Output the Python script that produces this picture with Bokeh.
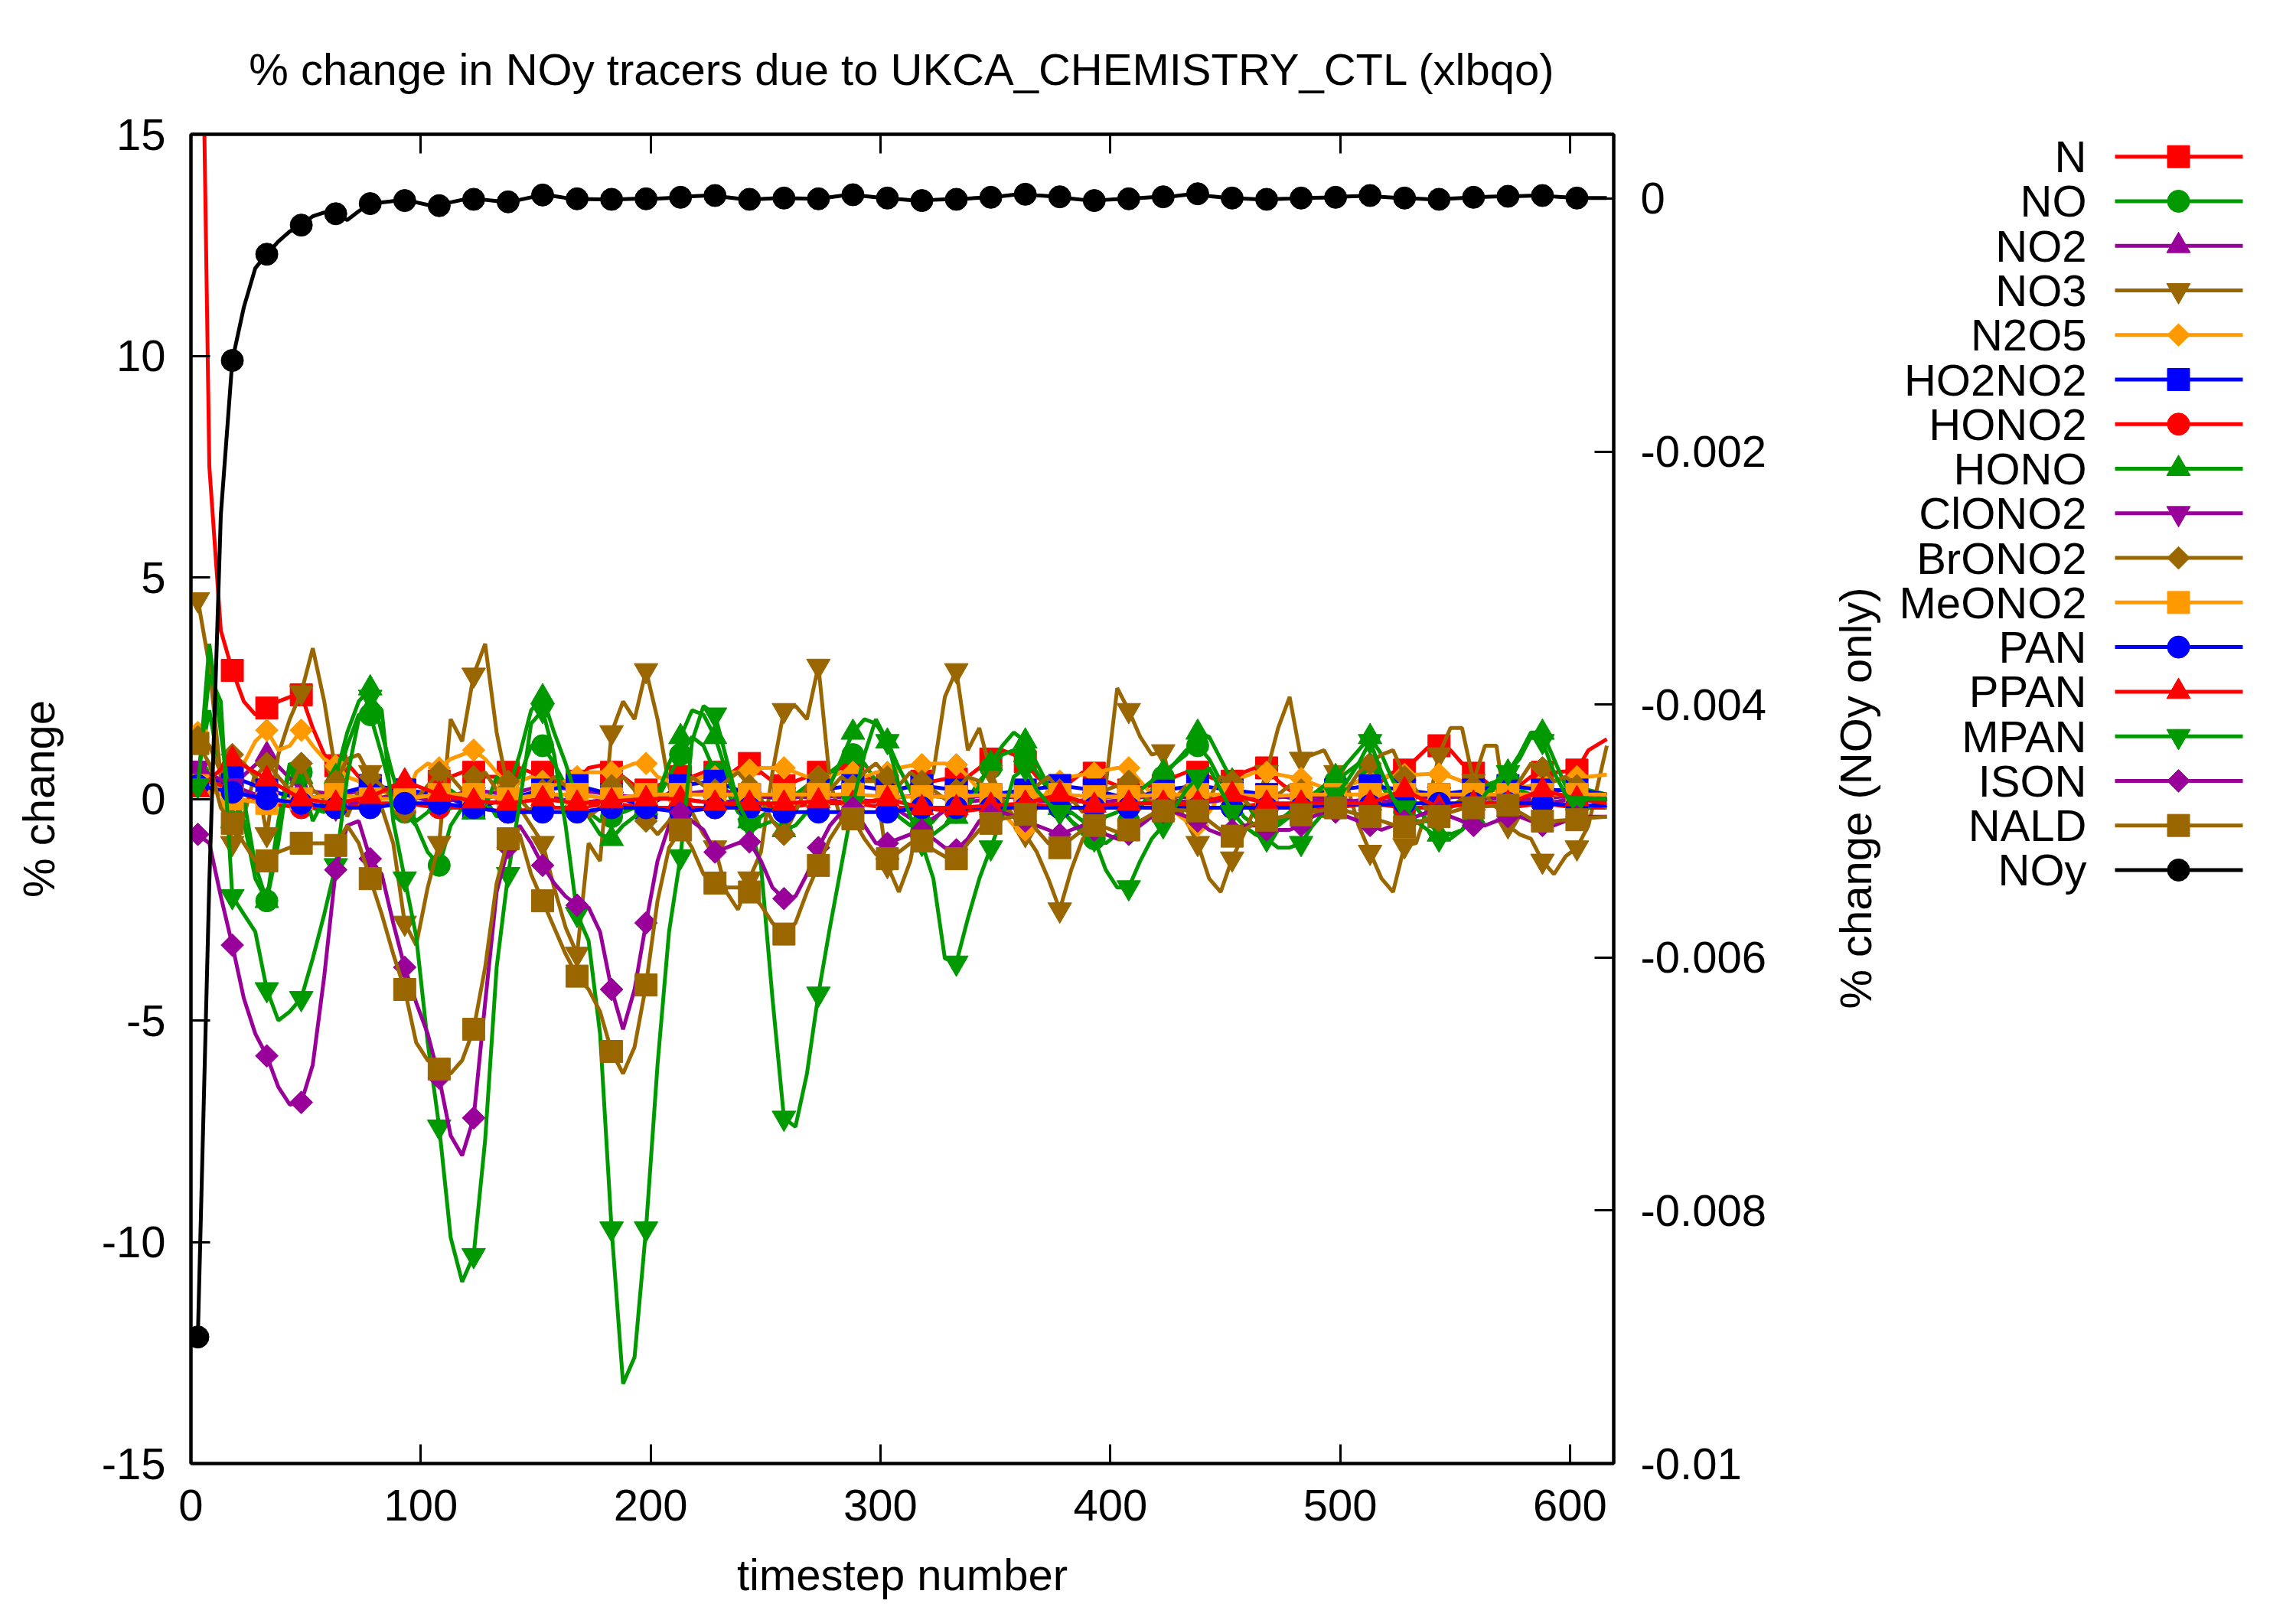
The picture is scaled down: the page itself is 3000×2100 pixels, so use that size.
import math
from bokeh.plotting import figure
from bokeh.models import Range1d, LinearAxis, FixedTicker, CustomJSTickFormatter
from bokeh.layouts import row
from bokeh.embed import file_html
from bokeh.resources import INLINE
from bokeh.core.properties import value

# ---------------- data ----------------
timesteps = [3 + 5 * i for i in range(122)] + [616]          # fine grid (123 points)
coarse_steps = timesteps[:121:3] + [616]                      # marker grid (42 points)

x_ticks = [0, 100, 200, 300, 400, 500, 600]
y_ticks = [-15, -10, -5, 0, 5, 10, 15]
y2_ticks = [0, -0.002, -0.004, -0.006, -0.008, -0.01]

N = [25, 7.5, 3.8, 2.9, 2.2, 1.9, 2.05, 2.2, 2.3, 2.35, 1.6, 1.0, 0.75, 0.8, 0.5,
     0.3, 0.2, 0.3, 0.2, 0.1, 0.2, 0.4, 0.5, 0.6, 0.6, 0.5, 0.5, 0.6, 0.7, 0.6,
     0.6, 0.4, 0.3, 0.4, 0.7, 0.75, 0.6, 0.5, 0.3, 0.2, 0.3, 0.4, 0.5, 0.5, 0.6,
     0.6, 0.5, 0.7, 0.8, 0.6, 0.4, 0.3, 0.4, 0.5, 0.6, 0.6, 0.7, 0.7, 0.5, 0.4,
     0.3, 0.2, 0.3, 0.4, 0.4, 0.45, 0.45, 0.5, 0.7, 0.9, 1.1, 1.0, 0.84, 0.5, 0.3,
     0.3, 0.4, 0.6, 0.58, 0.4, 0.3, 0.2, 0.25, 0.3, 0.3, 0.5, 0.6, 0.6, 0.5, 0.4,
     0.4, 0.6, 0.7, 0.7, 0.4, 0.2, 0.1, 0.0, 0.0, 0.2, 0.3, 0.4, 0.3, 0.4, 0.6,
     0.65, 0.9, 1.15, 1.2, 1.1, 0.8, 0.58, 0.4, 0.2, 0.2, 0.3, 0.5, 0.6, 0.6, 0.62,
     0.65, 1.1, 1.35]

NO = [0.6, 2.0, 0.5, 0.2, -0.5, -1.8, -2.3, -0.5, 0.8, 0.6, -0.2, -0.3, 0.3, 1.2, 1.9,
      1.9, 1.0, 0.0, -0.3, -0.6, -1.2, -1.5, -0.6, -0.2, 0.2, 0.0, -0.4, -0.3, 0.5, 1.2,
      1.2, 0.8, 0.3, -0.1, -0.3, -0.5, -0.4, -0.3, -0.2, -0.1, 0.0, 0.5, 1.0, 1.4, 1.2,
      0.6, 0.2, -0.3, -0.5, -0.4, -0.2, -0.1, 0.1, 0.3, 0.4, 0.6, 0.8, 1.0, 0.8, 0.4,
      0.0, -0.4, -0.6, -0.7, -0.5, -0.2, -0.3, 0.0, 0.4, 0.7, 1.0, 1.1, 1.0, 0.6, 0.2,
      -0.2, -0.5, -0.7, -0.9, -1.0, -0.8, -0.5, -0.2, 0.2, 0.5, 0.8, 1.1, 1.2, 0.9, 0.4,
      0.0, -0.4, -0.6, -0.7, -0.6, -0.4, -0.2, 0.0, 0.2, 0.4, 0.6, 0.8, 0.7, 0.3, -0.1,
      -0.3, -0.5, -0.5, -0.4, -0.2, 0.0, 0.2, 0.3, 0.4, 0.3, 0.2, 0.1, 0.0, -0.1, 0.0,
      0.1, 0.2, 0.1]

NO2 = [0.5, 0.3, 1.0, 0.2, 0.1, 0.2, 0.1, 0.0, 0.2, 0.1,
       0.3, 0.2, 0.1, 0.0, 0.1, 0.2, 0.1, 0.0, 0.1, 0.0,
       -0.1, -0.6, -0.1, 0.0, 0.1, 0.0, -0.1, 0.0, 0.1, 0.0,
       0.0, 0.1, 0.0, -0.1, 0.0, 0.1, 0.0, 0.1, 0.0, 0.0,
       0.1, 0.0]

NO3 = [4.5, 3.0, 0.5, -1.0, -0.4, 0.6, -0.8, 1.0, 1.8, 2.4, 3.4, 2.2, 0.6, -0.4, 0.2,
       0.6, -0.2, -1.0, -2.8, -3.3, -2.0, -1.0, 1.8, 1.3, 2.8, 3.5, 1.5, 0.2, -0.2, -0.6,
       -1.0, -2.0, -2.9, -3.5, -1.0, -1.4, 1.5, 2.2, 1.8, 2.9, 1.8, 0.3, -0.6, -0.3, -0.8,
       -1.1, -2.1, -2.5, -1.8, -1.2, 0.6, 2.0, 2.1, 1.8, 3.0, 0.4, -0.5, 0.2, 0.4, 0.4,
       -1.5, -2.1, -1.4, 0.0, 0.6, 2.3, 2.9, 1.1, 1.6, 0.6, 0.0, -0.4, -0.8, -1.2, -1.8,
       -2.5, -1.6, -0.9, -0.6, 0.3, 2.5, 2.0, 1.4, 1.0, 1.07, 0.0, -0.5, -1.0, -1.8, -2.1,
       -1.35, -0.8, -0.2, 0.6, 1.6, 2.3, 0.9, 1.0, 1.1, 0.6, 0.3, -0.6, -1.2, -1.8, -2.1,
       -1.05, -1.0, -0.2, 1.0, 1.6, 1.6, 0.4, 1.2, 1.2, -0.6, -0.8, -0.9, -1.4, -1.7, -1.3,
       -1.1, -0.6, 1.2]

N2O5 = [1.5, 1.2, 0.6, 0.4, 0.8, 1.3, 1.55, 1.1, 1.2, 1.55, 1.2, 0.9, 0.75, 0.5, 0.4,
        0.3, 0.2, 0.0, -0.05, 0.6, 0.8, 0.7, 0.9, 1.0, 1.1, 0.9, 0.6, 0.3, 0.4, 0.5,
        0.4, 0.3, 0.4, 0.5, 0.6, 0.6, 0.6, 0.7, 0.8, 0.8, 0.5, 0.4, 0.3, 0.4, 0.5,
        0.5, 0.6, 0.6, 0.65, 0.7, 0.7, 0.7, 0.6, 0.5, 0.5, 0.5, 0.6, 0.6, 0.5, 0.6,
        0.6, 0.7, 0.75, 0.77, 0.8, 0.8, 0.77, 0.5, 0.2, 0.0, -0.3, -0.6, -0.7, -0.2, 0.2,
        0.4, 0.5, 0.55, 0.58, 0.65, 0.7, 0.7, 0.4, 0.1, -0.1, -0.3, -0.5, -0.6, -0.3, 0.1,
        0.3, 0.5, 0.6, 0.6, 0.55, 0.5, 0.46, 0.35, 0.25, 0.2, 0.3, 0.4, 0.4, 0.5, 0.5,
        0.55, 0.55, 0.56, 0.56, 0.5, 0.4, 0.3, 0.2, 0.2, 0.2, 0.25, 0.3, 0.35, 0.4, 0.45,
        0.5, 0.5, 0.55]

HO2NO2 = [0.3, 0.5, 0.2, 0.0, 0.1, 0.3, 0.2, 0.1, -0.2, 0.0,
          0.2, 0.3, 0.1, -0.2, 0.3, 0.4, 0.1, 0.0, 0.2, 0.3,
          0.2, 0.3, 0.2, 0.1, 0.2, 0.3, 0.2, 0.0, 0.2, 0.3,
          0.2, 0.1, 0.0, 0.2, 0.3, 0.2, 0.1, 0.2, 0.3, 0.2,
          0.2, 0.1]

HONO2 = [0.5, 0.2, -0.1, -0.2, -0.2, -0.1, -0.1, -0.2, -0.2, -0.3,
         -0.2, -0.2, -0.1, -0.2, -0.2, -0.2, -0.1, -0.2, -0.1, -0.1,
         -0.2, -0.2, -0.3, -0.2, -0.1, -0.2, -0.2, -0.1, -0.1, -0.2,
         -0.2, -0.1, -0.2, -0.2, -0.1, -0.2, -0.2, -0.1, -0.2, -0.1,
         -0.2, -0.2]

HONO = [0.2, 3.5, 1.5, -0.5, 0.0, -1.5, -2.3, -1.0, 0.8, 0.5, -0.5, 0.0, 0.5, 1.5, 2.2,
        2.5, 1.5, 0.5, -0.3, -0.5, -0.3, -0.1, 0.2, 0.0, -0.3, -0.2, 0.5, 0.2, 1.0, 2.0,
        2.3, 1.5, 0.8, 0.0, -0.4, -0.8, -0.9, -0.6, -0.4, -0.2, 0.1, 0.8, 1.4, 2.0, 1.9,
        1.4, 0.6, -0.2, -0.5, -0.6, -0.5, -0.7, -0.6, -0.3, 0.0, 0.3, 0.9, 1.5, 1.8, 1.7,
        1.3, 0.7, 0.2, -0.4, -0.8, -0.6, -0.4, -0.2, 0.3, 0.8, 1.2, 1.5, 1.3, 0.8, 0.3,
        -0.2, -0.5, -0.8, -0.6, -0.4, -0.3, 0.0, 0.2, 0.4, 0.6, 0.8, 1.0, 1.5, 1.4, 0.9,
        0.4, 0.0, -0.4, -0.6, -0.5, -0.3, -0.1, 0.1, 0.3, 0.5, 0.8, 1.1, 1.4, 1.0, 0.4,
        0.1, -0.2, -0.5, -0.8, -0.8, -0.7, -0.4, 0.0, 0.3, 0.6, 1.0, 1.5, 1.5, 0.9, 0.3,
        -0.1, -0.2, 0.0]

ClONO2 = [0.7, 0.3, 0.0, -0.1, -0.2, 0.0, 0.1, -0.1, 0.1, 0.0,
          0.1, -0.1, 0.0, 0.1, 0.0, -0.1, 0.0, 0.1, 0.0, -0.1,
          0.0, 0.1, 0.0, 0.1, 0.0, -0.1, 0.0, 0.1, 0.0, -0.1,
          0.0, 0.0, 0.1, 0.0, -0.1, 0.0, 0.1, 0.0, 0.0, -0.1,
          0.0, 0.0]

BrONO2 = [1.4, 1.2, 0.6, 1.0, 0.8, 0.5, 0.8, 0.5, 0.2, 0.8, 0.2, 0.0, 0.4, 0.9, 1.0,
          0.5, 0.3, 0.0, -0.3, 0.0, 0.3, 0.6, 0.5, 0.2, 0.5, 0.6, 0.2, 0.4, 0.0, -0.3,
          0.2, 0.5, 0.3, 0.0, -0.4, -0.2, 0.3, 0.5, 0.2, -0.5, -0.8, -0.5, 0.0, 0.5, 0.3,
          0.2, 0.4, 0.6, 0.3, 0.0, -0.5, -0.8, -0.3, 0.3, 0.5, 0.2, 0.5, 0.3, 0.6, 0.8,
          0.5, 0.3, 0.6, 0.4, 0.2, 0.0, 0.2, 0.5, 0.4, 0.1, -0.2, -0.4, -0.2, 0.3, 0.5,
          0.2, 0.0, -0.3, -0.1, 0.2, 0.3, 0.4, 0.2, -0.1, -0.3, 0.0, 0.3, 0.2, 0.0, 0.5,
          0.4, 0.0, -0.3, -0.2, 0.1, 0.3, 0.2, -0.2, -0.4, -0.2, 0.2, 0.6, 0.8, 1.0, 1.1,
          0.5, 0.2, -0.3, -0.5, -0.2, 0.0, 0.3, 0.1, -0.2, 0.0, 0.4, 0.8, 0.7, 0.4, 0.5,
          0.3, 0.0, -0.2]

MeONO2 = [0.3, 0.0, -0.1, 0.0, 0.1, 0.0, 0.0, 0.1, 0.1, 0.0,
          0.1, 0.1, 0.0, 0.1, 0.1, 0.1, 0.1, 0.1, 0.1, 0.1,
          0.05, 0.05, 0.05, 0.1, 0.05, 0.1, 0.05, 0.05, 0.1, 0.1,
          0.1, 0.05, 0.1, 0.1, 0.1, 0.1, 0.1, 0.1, 0.1, 0.1,
          0.1, 0.1]

PAN = [0.3, 0.15, 0.0, -0.1, -0.2, -0.2, -0.1, -0.1, -0.2, -0.3,
       -0.3, -0.3, -0.2, -0.2, -0.3, -0.2, -0.2, -0.3, -0.3, -0.3,
       -0.3, -0.2, -0.2, -0.2, -0.2, -0.2, -0.2, -0.2, -0.2, -0.2,
       -0.2, -0.2, -0.2, -0.1, -0.15, -0.1, -0.1, -0.1, -0.1, -0.1,
       -0.15, -0.15]

PPAN = [0.2, 0.9, 0.45, 0.0, -0.1, 0.05, 0.4, 0.1, -0.05, -0.1,
        0.0, -0.1, -0.05, 0.0, 0.0, -0.1, -0.1, -0.1, -0.05, -0.1,
        0.0, -0.2, -0.2, -0.15, -0.1, 0.1, -0.15, -0.1, -0.1, -0.1,
        0.1, -0.1, -0.1, -0.1, -0.1, 0.2, -0.2, -0.1, -0.1, 0.2,
        0.0, -0.1]

MPAN = [0.3, 2.8, 2.2, -2.2, -2.6, -3.0, -4.3, -5.0, -4.8, -4.5, -3.6, -2.6, -1.5, 0.5, 1.8,
        2.3, 2.0, -0.5, -1.8, -3.1, -5.5, -7.4, -9.9, -10.9, -10.3, -7.7, -3.8, -1.7, -0.1, 1.7,
        2.0, 1.0, -0.6, -2.6, -3.2, -5.3, -9.7, -13.2, -12.6, -9.7, -6.0, -3.0, -1.3, 1.3, 2.1,
        1.9, 0.9, -0.1, -0.6, -1.5, -4.5, -7.2, -7.4, -6.2, -4.4, -2.9, -1.5, -0.1, 1.0, 1.8,
        1.3, 0.3, -0.4, -1.0, -1.8, -3.6, -3.7, -2.7, -1.8, -1.1, -0.4, 0.5, 0.7, 0.2, -0.1,
        -0.3, -0.3, -0.5, -0.9, -1.6, -2.0, -2.0, -1.4, -0.9, -0.6, -0.2, 0.2, 0.5, 0.7, 0.2,
        -0.3, -0.6, -0.8, -0.9, -1.1, -1.1, -1.0, -0.6, -0.3, 0.1, 0.4, 0.8, 1.3, 0.6, 0.0,
        -0.2, -0.5, -0.7, -0.9, -0.9, -0.7, -0.3, 0.1, 0.4, 0.6, 0.9, 1.4, 1.3, 0.6, 0.1,
        -0.1, 0.0, 0.0]

ISON = [-0.8, -1.0, -2.2, -3.3, -4.5, -5.3, -5.8, -6.5, -6.9, -6.85, -6.0, -4.0, -1.6, -0.6, -0.5,
        -1.35, -1.7, -2.8, -3.8, -4.6, -5.3, -6.3, -7.6, -8.05, -7.2, -4.6, -2.1, -1.1, -0.6, -1.0,
        -1.5, -1.9, -2.2, -2.4, -2.45, -3.0, -4.3, -5.2, -4.3, -2.8, -1.4, -0.6, -0.3, -0.5, -0.7,
        -1.2, -1.1, -1.0, -0.97, -1.4, -2.0, -2.25, -2.2, -1.7, -1.1, -0.6, -0.3, -0.2, -0.6, -1.0,
        -1.0, -0.9, -0.8, -0.7, -0.9, -1.1, -1.15, -0.9, -0.5, -0.35, -0.3, -0.4, -0.5, -0.6, -0.7,
        -0.8, -0.7, -0.6, -0.7, -0.8, -0.9, -0.8, -0.6, -0.4, -0.3, -0.3, -0.4, -0.5, -0.7, -0.8,
        -0.7, -0.6, -0.6, -0.7, -0.7, -0.7, -0.6, -0.4, -0.3, -0.3, -0.4, -0.5, -0.6, -0.7, -0.6,
        -0.5, -0.4, -0.3, -0.3, -0.4, -0.5, -0.6, -0.6, -0.5, -0.4, -0.4, -0.5, -0.6, -0.6, -0.5,
        -0.4, -0.4, -0.4]

NALD = [1.25, 0.8, -0.2, -0.55, -1.0, -1.4, -1.4, -1.2, -1.1, -1.0, -1.0, -1.0, -1.05, -0.6, -1.0,
        -1.8, -2.6, -3.5, -4.3, -5.5, -5.9, -6.1, -6.2, -5.9, -5.2, -3.8, -1.9, -0.9, -0.8, -1.7,
        -2.3, -2.9, -3.5, -4.0, -4.3, -4.8, -5.7, -6.2, -5.6, -4.2, -2.3, -1.1, -0.7, -1.1, -1.7,
        -1.9, -2.0, -2.0, -2.1, -2.4, -2.8, -3.05, -2.8, -2.1, -1.5, -0.9, -0.5, -0.45, -0.9, -1.25,
        -1.35, -1.2, -1.0, -0.95, -1.15, -1.3, -1.35, -1.0, -0.7, -0.55, -0.45, -0.4, -0.35, -0.7, -1.0,
        -1.1, -0.9, -0.7, -0.6, -0.65, -0.75, -0.7, -0.5, -0.35, -0.27, -0.25, -0.26, -0.27, -0.5, -0.7,
        -0.84, -0.7, -0.55, -0.48, -0.42, -0.38, -0.36, -0.3, -0.25, -0.2, -0.28, -0.35, -0.4, -0.5, -0.58,
        -0.63, -0.55, -0.45, -0.4, -0.3, -0.22, -0.2, -0.17, -0.15, -0.14, -0.3, -0.45, -0.5, -0.5, -0.48,
        -0.47, -0.43, -0.4]

NOy = [-0.0090, -0.0054, -0.0025, -0.00128, -0.00086, -0.00055, -0.00044, -0.00034, -0.00026, -0.00021,
       -0.00014, -0.00011, -0.00012, -0.00017, -0.00010,
       -0.00004, -0.00003, -0.00002, -0.000016, -0.00003, -0.00005, -0.000056, -0.00003, -0.00001, -0.000006,
       -0.00001, -0.00002, -0.000026, -0.00001, 0.00001,
       0.000028, 0.00002, 0.000005, -0.000002, -0.000004, -0.000006, -0.000006, -0.000004, -0.000002, -0.000002,
       0.0, 0.000005, 0.00001, 0.000018, 0.000022,
       0.000024, 0.00001, 0.0, -0.000006, -0.000003, 0.000001, 0.000004, 0.000002, 0.0, -0.000002,
       0.00001, 0.000022, 0.00003, 0.00002, 0.00001,
       0.000004, -0.000005, -0.000012, -0.000016, -0.00001, -0.000006, -0.000006, 0.0, 0.000006, 0.00001,
       0.00002, 0.00003, 0.000034, 0.000025, 0.00002,
       0.000014, 0.0, -0.00001, -0.000016, -0.00001, -0.000005, -0.000002, 0.000005, 0.00001, 0.000014,
       0.00002, 0.00003, 0.000038, 0.00002, 0.00001,
       0.000004, 0.0, -0.000004, -0.000006, -0.000003, 0.0, 0.000004, 0.000006, 0.000008, 0.00001,
       0.000016, 0.00002, 0.000024, 0.000014, 0.000008,
       0.000004, 0.0, -0.000004, -0.000006, 0.0, 0.000005, 0.00001, 0.000014, 0.000016, 0.000018,
       0.00002, 0.000022, 0.000024, 0.000016, 0.00001,
       0.000004, 0.000004, 0.000004]

RED, GREEN, PURPLE, BROWN, ORANGE, BLUE, BLACK = (
    "#ff0000", "#009900", "#990099", "#996600", "#ff9900", "#0000ff", "#000000")

# name, values, grid kind, colour, marker
series = [
    ("N", N, "fine", RED, "square"),
    ("NO", NO, "fine", GREEN, "circle"),
    ("NO2", NO2, "coarse", PURPLE, "triangle"),
    ("NO3", NO3, "fine", BROWN, "inverted_triangle"),
    ("N2O5", N2O5, "fine", ORANGE, "diamond"),
    ("HO2NO2", HO2NO2, "coarse", BLUE, "square"),
    ("HONO2", HONO2, "coarse", RED, "circle"),
    ("HONO", HONO, "fine", GREEN, "triangle"),
    ("ClONO2", ClONO2, "coarse", PURPLE, "inverted_triangle"),
    ("BrONO2", BrONO2, "fine", BROWN, "diamond"),
    ("MeONO2", MeONO2, "coarse", ORANGE, "square"),
    ("PAN", PAN, "coarse", BLUE, "circle"),
    ("PPAN", PPAN, "coarse", RED, "triangle"),
    ("MPAN", MPAN, "fine", GREEN, "inverted_triangle"),
    ("ISON", ISON, "fine", PURPLE, "diamond"),
    ("NALD", NALD, "fine", BROWN, "square"),
    ("NOy", NOy, "fine", BLACK, "circle"),
]

# ---------------- layout / styling ----------------
FONT = "Liberation Sans"
FS = "58px"
H = 2092
W_MAIN = 2340
W_LEG = 652
FRAME_L, FRAME_R, FRAME_T, FRAME_B = 249, 2108, 175, 1913
LINE_W = 5


def marker_kw(marker):
    if marker == "diamond":
        return dict(marker="square", size=21, angle=math.pi / 4)
    if marker in ("triangle", "inverted_triangle"):
        return dict(marker=marker, size=31)
    return dict(marker=marker, size=29)


p = figure(width=W_MAIN, height=H, x_range=Range1d(0, 619), y_range=Range1d(-15, 15),
           output_backend="svg", toolbar_location=None,
           min_border_left=FRAME_L, min_border_right=W_MAIN - FRAME_R,
           min_border_top=FRAME_T, min_border_bottom=H - FRAME_B,
           title="% change in NOy tracers due to UKCA_CHEMISTRY_CTL (xlbqo)")
p.extra_y_ranges = {"noy": Range1d(-0.01, 0.000508)}
p.grid.visible = False
p.outline_line_color = "black"
p.outline_line_width = 4
p.background_fill_color = "white"
p.border_fill_color = "white"

p.title.text_font = FONT
p.title.text_font_size = FS
p.title.text_font_style = "normal"
p.title.text_color = "black"
p.title.align = "center"
p.title.standoff = 106


def style_axis(ax):
    ax.major_tick_in = 25
    ax.major_tick_out = 0
    ax.minor_tick_in = 0
    ax.minor_tick_out = 0
    ax.major_tick_line_width = 3
    ax.major_tick_line_color = "black"
    ax.axis_line_width = 4
    ax.axis_line_color = "black"
    ax.major_label_text_font = FONT
    ax.major_label_text_font_size = FS
    ax.major_label_text_color = "black"
    ax.axis_label_text_font = FONT
    ax.axis_label_text_font_size = FS
    ax.axis_label_text_font_style = "normal"
    ax.axis_label_text_color = "black"


plain = "return String(Number(tick.toFixed(4)));"

xa = p.xaxis[0]
style_axis(xa)
xa.ticker = FixedTicker(ticks=x_ticks)
xa.formatter = CustomJSTickFormatter(code=plain)
xa.axis_label = "timestep number"
xa.major_label_standoff = 34
xa.axis_label_standoff = 35

ya = p.yaxis[0]
style_axis(ya)
ya.ticker = FixedTicker(ticks=y_ticks)
ya.formatter = CustomJSTickFormatter(code=plain)
ya.axis_label = "% change"
ya.major_label_standoff = 33
ya.axis_label_standoff = 47

y2 = LinearAxis(y_range_name="noy")
style_axis(y2)
y2.ticker = FixedTicker(ticks=y2_ticks)
y2.formatter = CustomJSTickFormatter(code=plain)
y2.major_label_standoff = 35
p.add_layout(y2, "right")

top = LinearAxis()
style_axis(top)
top.ticker = FixedTicker(ticks=x_ticks)
top.formatter = CustomJSTickFormatter(code="return '';")
top.major_label_text_font_size = "0px"
top.major_label_standoff = 0
p.add_layout(top, "above")

for name, vals, kind, color, marker in series:
    xs = timesteps if kind == "fine" else coarse_steps
    if kind == "fine":
        mx, my = xs[:121:3], vals[:121:3]
    else:
        mx, my = xs[:-1], vals[:-1]
    kw = {}
    if name == "NOy":
        kw["y_range_name"] = "noy"
    p.line(xs, vals, line_color=color, line_width=LINE_W, **kw)
    p.scatter(mx, my, fill_color=color, line_color=color, line_width=1,
              **marker_kw(marker), **kw)

# ---------------- key (gnuplot style: label, then sample) ----------------
# the row aligns this figure's frame with the main frame, so y is in page pixels
lg = figure(width=W_LEG, height=H, x_range=Range1d(0, W_LEG),
            y_range=Range1d(FRAME_B, FRAME_T),
            output_backend="svg", toolbar_location=None,
            x_axis_type=None, y_axis_type=None,
            min_border_left=0, min_border_right=0,
            min_border_top=FRAME_T, min_border_bottom=H - FRAME_B)
lg.outline_line_color = None
lg.background_fill_color = "white"
lg.border_fill_color = "white"

lg.text(x=[84], y=[1043], text=["% change (NOy only)"], angle=math.pi / 2,
        text_align="center", text_baseline="middle",
        text_font=value(FONT), text_font_size=FS, text_color="black")

names = [s[0] for s in series]
row_y = [204.2 + 58.3 * i for i in range(len(series))]
lg.text(x=[386] * len(names), y=row_y, text=names, text_align="right",
        text_baseline="middle", text_font=value(FONT), text_font_size=FS,
        text_color="black")
for (name, vals, kind, color, marker), yy in zip(series, row_y):
    lg.segment(x0=[423], y0=[yy], x1=[590], y1=[yy], line_color=color, line_width=LINE_W)
    lg.scatter([506], [yy], fill_color=color, line_color=color, line_width=1,
               **marker_kw(marker))

layout = row(p, lg)
open("out.html", "w").write(file_html(layout, INLINE))
